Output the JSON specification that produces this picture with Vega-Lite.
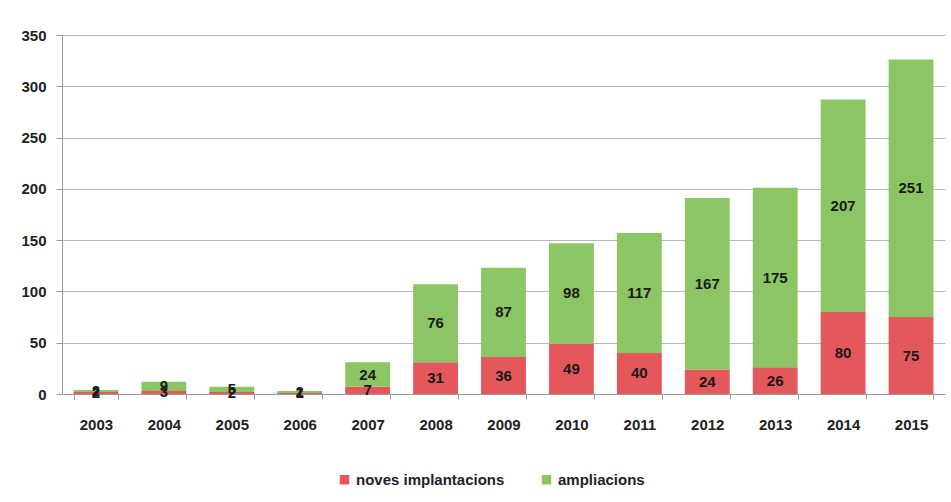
{
  "$schema": "https://vega.github.io/schema/vega-lite/v6.json",
  "width": 883,
  "height": 359,
  "autosize": {"type": "none"},
  "padding": {"left": 62, "top": 35, "right": 6, "bottom": 108},
  "background": "white",
  "config": {
    "view": {"stroke": null},
    "font": "Liberation Sans",
    "axis": {"labelFont": "Liberation Sans", "labelFontWeight": "bold", "labelFontSize": 15, "labelColor": "#222222", "domainColor": "#9a9a9a", "tickColor": "#9a9a9a", "gridColor": "#b8b8b8"}
  },
  "data": {"values": [
    {"year": "2003", "serie": "noves implantacions", "value": 2},
    {"year": "2003", "serie": "ampliacions", "value": 2},
    {"year": "2004", "serie": "noves implantacions", "value": 3},
    {"year": "2004", "serie": "ampliacions", "value": 9},
    {"year": "2005", "serie": "noves implantacions", "value": 2},
    {"year": "2005", "serie": "ampliacions", "value": 5},
    {"year": "2006", "serie": "noves implantacions", "value": 1},
    {"year": "2006", "serie": "ampliacions", "value": 2},
    {"year": "2007", "serie": "noves implantacions", "value": 7},
    {"year": "2007", "serie": "ampliacions", "value": 24},
    {"year": "2008", "serie": "noves implantacions", "value": 31},
    {"year": "2008", "serie": "ampliacions", "value": 76},
    {"year": "2009", "serie": "noves implantacions", "value": 36},
    {"year": "2009", "serie": "ampliacions", "value": 87},
    {"year": "2010", "serie": "noves implantacions", "value": 49},
    {"year": "2010", "serie": "ampliacions", "value": 98},
    {"year": "2011", "serie": "noves implantacions", "value": 40},
    {"year": "2011", "serie": "ampliacions", "value": 117},
    {"year": "2012", "serie": "noves implantacions", "value": 24},
    {"year": "2012", "serie": "ampliacions", "value": 167},
    {"year": "2013", "serie": "noves implantacions", "value": 26},
    {"year": "2013", "serie": "ampliacions", "value": 175},
    {"year": "2014", "serie": "noves implantacions", "value": 80},
    {"year": "2014", "serie": "ampliacions", "value": 207},
    {"year": "2015", "serie": "noves implantacions", "value": 75},
    {"year": "2015", "serie": "ampliacions", "value": 251}
  ]},
  "transform": [
    {"stack": "value", "groupby": ["year"], "sort": [{"field": "serie", "order": "descending"}], "as": ["v0", "v1"]},
    {"calculate": "(datum.v0 + datum.v1) / 2", "as": "mid"}
  ],
  "encoding": {
    "x": {"field": "year", "type": "ordinal", "title": null,
      "scale": {"paddingInner": 0.34, "paddingOuter": 0.17},
      "axis": {"labelAngle": 0, "labelPadding": 18, "tickBand": "extent", "tickSize": 5, "domainColor": "#9a9a9a"}}
  },
  "layer": [
    {
      "mark": {"type": "bar"},
      "encoding": {
        "y": {"field": "v0", "type": "quantitative", "title": null,
          "scale": {"domain": [0, 350]},
          "axis": {"values": [0, 50, 100, 150, 200, 250, 300, 350], "tickSize": 6, "labelPadding": 10, "domain": true}},
        "y2": {"field": "v1"},
        "color": {"field": "serie", "type": "nominal", "title": null,
          "scale": {"domain": ["noves implantacions", "ampliacions"], "range": ["#e4575a", "#8cc563"]},
          "legend": {"orient": "none", "legendX": 275, "legendY": 437, "direction": "horizontal", "symbolType": "square", "symbolSize": 90, "symbolStrokeWidth": 0, "labelFontSize": 15, "labelFontWeight": "bold", "labelColor": "#222222", "columnPadding": 34, "labelFont": "Liberation Sans"}}
      }
    },
    {
      "mark": {"type": "text", "fontSize": 15, "fontWeight": "bold", "color": "#1a1a1a", "baseline": "middle"},
      "encoding": {
        "y": {"field": "mid", "type": "quantitative"},
        "text": {"field": "value", "type": "quantitative"}
      }
    }
  ]
}
